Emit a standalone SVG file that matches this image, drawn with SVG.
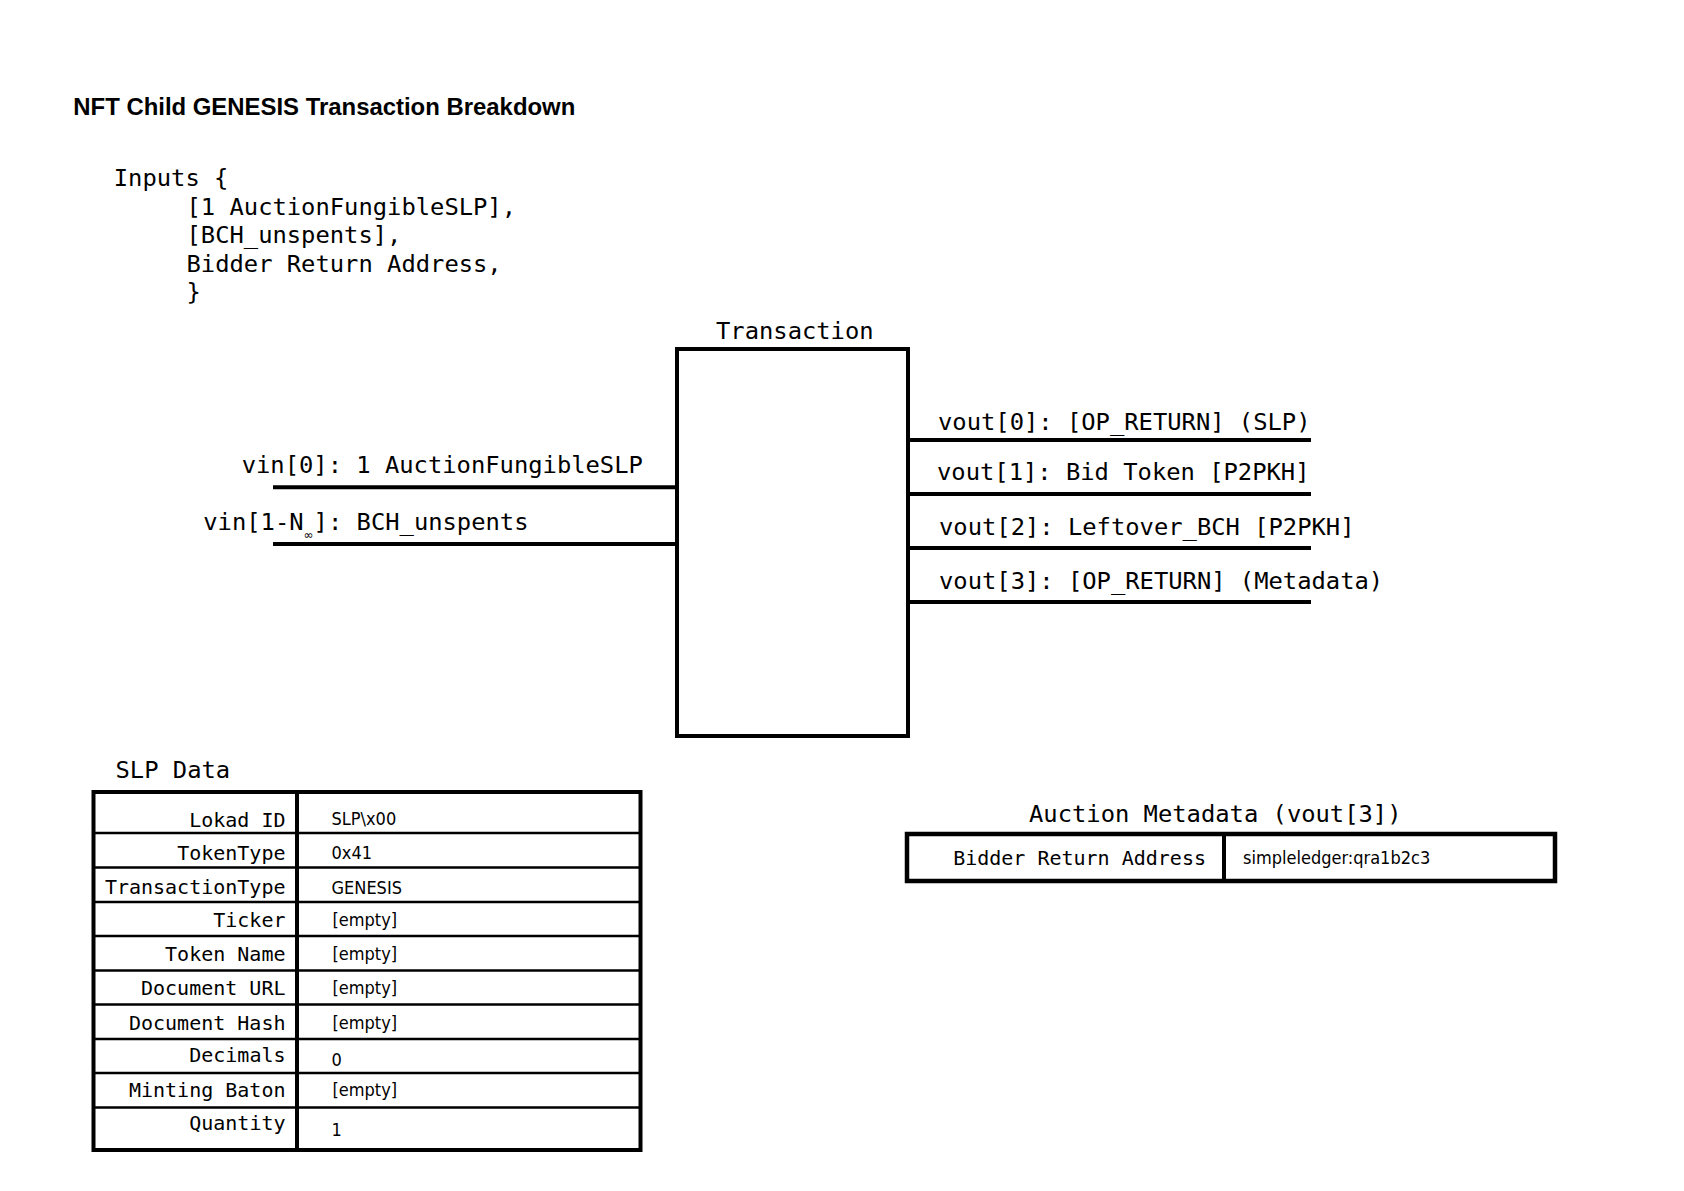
<svg xmlns="http://www.w3.org/2000/svg" width="1684" height="1191" viewBox="0 0 1684 1191">
<style>
.title{font-family:'Liberation Sans',Arial,sans-serif;font-weight:bold;font-size:23px;fill:#000}
.mono{font-family:'DejaVu Sans Mono',monospace;font-size:23.8px;fill:#000}
.lbl{font-family:'DejaVu Sans Mono',monospace;font-size:20px;fill:#000;text-anchor:end}
.val{font-family:'DejaVu Sans Condensed','DejaVu Sans',sans-serif;font-stretch:condensed;font-size:18px;fill:#000}
.box{fill:none;stroke:#000;stroke-width:4}
.wire{stroke:#000;stroke-width:4;fill:none}
.row{stroke:#000;stroke-width:2.5}
.col{stroke:#000;stroke-width:4}
</style>
<rect x="0" y="0" width="1684" height="1191" fill="#fff"/>

<g id="title">
<text class="title" x="73.3" y="114.5" textLength="502" lengthAdjust="spacingAndGlyphs">NFT Child GENESIS Transaction Breakdown</text>
</g>

<g id="inputs">
<text class="mono" x="113.8" y="186">Inputs {</text>
<text class="mono" x="186.5" y="214.5">[1 AuctionFungibleSLP],</text>
<text class="mono" x="186.5" y="243">[BCH_unspents],</text>
<text class="mono" x="186.5" y="271.5">Bidder Return Address,</text>
<text class="mono" x="186.5" y="300">}</text>
</g>

<g id="transaction">
<text class="mono" x="716" y="339">Transaction</text>
<rect class="box" x="677" y="349" width="231" height="387"/>
</g>

<g id="connectors">
<line class="wire" x1="273" y1="487.3" x2="677" y2="487.3"/>
<line class="wire" x1="273" y1="544" x2="677" y2="544"/>
<line class="wire" x1="908" y1="440" x2="1311" y2="440"/>
<line class="wire" x1="908" y1="494" x2="1311" y2="494"/>
<line class="wire" x1="908" y1="548" x2="1311" y2="548"/>
<line class="wire" x1="908" y1="602" x2="1311" y2="602"/>
</g>

<g id="vin-labels">
<text class="mono" x="241.7" y="472.5">vin[0]: 1 AuctionFungibleSLP</text>
<text class="mono" x="203.3" y="530">vin[1-N<tspan style="font-family:'DejaVu Sans',sans-serif;font-size:12px" dy="9">∞</tspan><tspan dy="-9">]: BCH_unspents</tspan></text>
</g>

<g id="vout-labels">
<text class="mono" x="938" y="429.5">vout[0]: [OP_RETURN] (SLP)</text>
<text class="mono" x="937" y="480">vout[1]: Bid Token [P2PKH]</text>
<text class="mono" x="939" y="535">vout[2]: Leftover_BCH [P2PKH]</text>
<text class="mono" x="939" y="589">vout[3]: [OP_RETURN] (Metadata)</text>
</g>

<g id="slp-data">
<text class="mono" x="115.5" y="777.5">SLP Data</text>
<line class="row" x1="93.5" y1="833" x2="641" y2="833"/>
<line class="row" x1="93.5" y1="867.5" x2="641" y2="867.5"/>
<line class="row" x1="93.5" y1="902" x2="641" y2="902"/>
<line class="row" x1="93.5" y1="936" x2="641" y2="936"/>
<line class="row" x1="93.5" y1="970.5" x2="641" y2="970.5"/>
<line class="row" x1="93.5" y1="1004.5" x2="641" y2="1004.5"/>
<line class="row" x1="93.5" y1="1039" x2="641" y2="1039"/>
<line class="row" x1="93.5" y1="1073" x2="641" y2="1073"/>
<line class="row" x1="93.5" y1="1107.5" x2="641" y2="1107.5"/>
<line class="col" x1="297" y1="792" x2="297" y2="1150"/>
<rect class="box" x="93.5" y="792" width="547" height="358"/>
<text class="lbl" x="285.5" y="827">Lokad ID</text>
<text class="lbl" x="285.5" y="860">TokenType</text>
<text class="lbl" x="285.5" y="894">TransactionType</text>
<text class="lbl" x="285.5" y="927">Ticker</text>
<text class="lbl" x="285.5" y="961">Token Name</text>
<text class="lbl" x="285.5" y="995">Document URL</text>
<text class="lbl" x="285.5" y="1030">Document Hash</text>
<text class="lbl" x="285.5" y="1062">Decimals</text>
<text class="lbl" x="285.5" y="1096.5">Minting Baton</text>
<text class="lbl" x="285.5" y="1130">Quantity</text>
<text class="val" x="331.5" y="825">SLP\x00</text>
<text class="val" x="331.5" y="859">0x41</text>
<text class="val" x="331.5" y="894">GENESIS</text>
<text class="val" x="332.5" y="926">[empty]</text>
<text class="val" x="332.5" y="960">[empty]</text>
<text class="val" x="332.5" y="994">[empty]</text>
<text class="val" x="332.5" y="1028.5">[empty]</text>
<text class="val" x="331.5" y="1066">0</text>
<text class="val" x="332.5" y="1095.5">[empty]</text>
<text class="val" x="331.5" y="1136">1</text>
</g>

<g id="auction-metadata">
<text class="mono" x="1029" y="821.7">Auction Metadata (vout[3])</text>
<line class="col" x1="1224" y1="834" x2="1224" y2="881"/>
<rect class="box" x="907" y="834" width="648" height="47" style="stroke-width:4.5"/>
<text class="lbl" x="1206" y="865">Bidder Return Address</text>
<text class="val" x="1243" y="864">simpleledger:qra1b2c3</text>
</g>
</svg>
